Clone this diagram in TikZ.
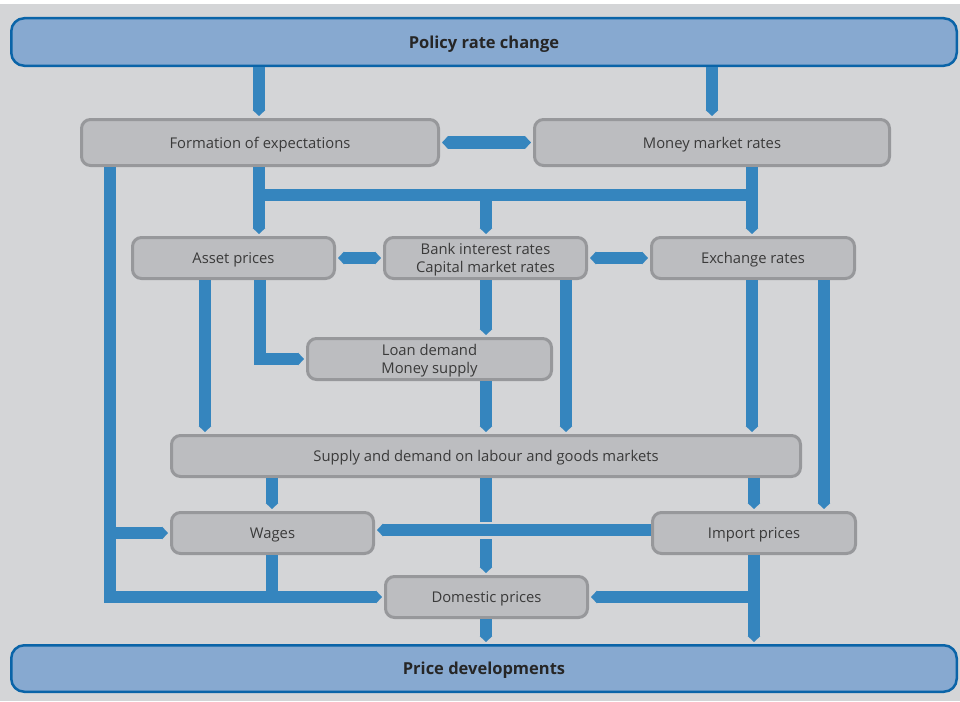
\documentclass[tikz,border=0pt]{standalone}
\usepackage{fontspec}
\setmainfont{Open Sans}
\usetikzlibrary{arrows.meta}
\definecolor{bg}{HTML}{D4D5D7}
\definecolor{boxfill}{HTML}{BCBDC0}
\definecolor{boxline}{HTML}{97989B}
\definecolor{bar}{HTML}{3585BE}
\definecolor{bfill}{HTML}{87A9D0}
\definecolor{bline}{HTML}{0A64A8}
\definecolor{txt}{HTML}{3A3A3A}
\tikzset{
  gbox/.style={draw=boxline, fill=boxfill, line width=3pt, rounded corners=9pt, inner sep=0pt, align=center, text=txt, text depth=0pt, font=\fontsize{14.8}{18.5}\selectfont},
  bbox/.style={draw=bline, fill=bfill, line width=2.5pt, rounded corners=13pt, inner sep=0pt, align=center, text=black!85, text depth=0pt, font=\fontsize{16.5}{19}\selectfont\bfseries},
  conn/.style={draw=bar, line width=12.5pt},
  arrowend/.style={-{Triangle[width=12.5pt,length=6pt]}, shorten >=2pt},
  twoway/.style={{Triangle[width=12.5pt,length=6pt]}-{Triangle[width=12.5pt,length=6pt]}, shorten >=2pt, shorten <=2pt},
}
\begin{document}
\begin{tikzpicture}[x=1pt,y=-1pt]
\fill[white] (0,0) rectangle (960,701);
\fill[bg] (0,4) rectangle (960,701);
\useasboundingbox (0,0) rectangle (960,701);

% top / bottom boxes
\node[bbox, minimum width=945.5pt, minimum height=47.5pt] (policy) at (484,42) {Policy rate change};
\node[bbox, minimum width=945.5pt, minimum height=46.5pt] (price) at (484,668.5) {Price developments};

% gray boxes
\node[gbox, minimum width=357pt, minimum height=46pt] (form) at (260,142.5) {Formation of expectations};
\node[gbox, minimum width=355pt, minimum height=46pt] (money) at (712,142.5) {Money market rates};
\node[gbox, minimum width=202pt, minimum height=41pt] (asset) at (233.5,258) {Asset prices};
\node[gbox, minimum width=202pt, minimum height=41pt] (bank) at (485.5,258) {Bank interest rates\\Capital market rates};
\node[gbox, minimum width=203pt, minimum height=41pt] (exch) at (753,258) {Exchange rates};
\node[gbox, minimum width=244pt, minimum height=41pt] (loan) at (429.5,359) {Loan demand\\Money supply};
\node[gbox, minimum width=629pt, minimum height=41pt] (supply) at (486,456) {Supply and demand on labour and goods markets};
\node[gbox, minimum width=202pt, minimum height=41pt] (wages) at (272.5,533) {Wages};
\node[gbox, minimum width=203pt, minimum height=41pt] (import) at (754,533) {Import prices};
\node[gbox, minimum width=202pt, minimum height=41pt] (dom) at (486.5,597) {Domestic prices};

\coordinate (j1) at (259,195);
\coordinate (j2) at (752,195);
\coordinate (j3) at (486,195);
\coordinate (l1) at (260,359);
\coordinate (l2) at (110,597);
\coordinate (l3) at (110,533);
\coordinate (w1) at (272,597);
\coordinate (i1) at (754,597);

% connectors
\draw[conn,arrowend] (259,0 |- policy.south) -- (259,0 |- form.north);
\draw[conn,arrowend] (712,0 |- policy.south) -- (712,0 |- money.north);
\draw[conn,twoway] (form.east) -- (money.west);
\draw[conn] (259,0 |- form.south) -- (j1) -- (j2) -- (752,0 |- money.south);
\draw[conn,arrowend] (j1) -- (259,0 |- asset.north);
\draw[conn,arrowend] (j3) -- (486,0 |- bank.north);
\draw[conn,arrowend] (j2) -- (752,0 |- exch.north);
\draw[conn,twoway] (asset.east) -- (bank.west);
\draw[conn,twoway] (bank.east) -- (exch.west);
\draw[conn,arrowend] (205,0 |- asset.south) -- (205,0 |- supply.north);
\draw[conn,arrowend] (260,0 |- asset.south) -- (l1) -- (loan.west);
\draw[conn,arrowend] (486,0 |- bank.south) -- (486,0 |- loan.north);
\draw[conn,arrowend] (566,0 |- bank.south) -- (566,0 |- supply.north);
\draw[conn,arrowend] (486,0 |- loan.south) -- (486,0 |- supply.north);
\draw[conn,arrowend] (752,0 |- exch.south) -- (752,0 |- supply.north);
\draw[conn,arrowend] (824,0 |- exch.south) -- (824,0 |- import.north);
\draw[conn,arrowend] (272,0 |- supply.south) -- (272,0 |- wages.north);
\draw[conn,arrowend] (754,0 |- supply.south) -- (754,0 |- import.north);
\draw[conn,arrowend] (486,0 |- supply.south) -- (486,0 |- dom.north);
\draw[bg, line width=17pt] (import.west |- 0,530) -- ([xshift=8pt]wages.east |- 0,530);
\draw[conn,arrowend] (import.west |- 0,530) -- (wages.east |- 0,530);
\draw[conn,arrowend] (110,0 |- form.south) -- (l2) -- (dom.west);
\draw[conn,arrowend] (l3) -- (wages.west);
\draw[conn] (272,0 |- wages.south) -- (w1);
\draw[conn,arrowend] (754,0 |- import.south) -- (754,0 |- price.north);
\draw[conn,arrowend] (i1) -- (dom.east);
\draw[conn,arrowend] (486,0 |- dom.south) -- (486,0 |- price.north);
\end{tikzpicture}
\end{document}
